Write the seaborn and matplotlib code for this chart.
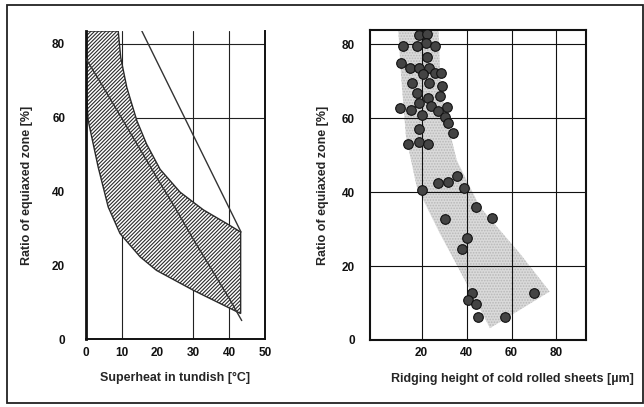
import numpy as np
import pandas as pd
import matplotlib
matplotlib.use("Agg")
import matplotlib.pyplot as plt
from matplotlib.patches import Rectangle
import seaborn as sns

# left panel: hatched band, superheat vs ratio of equiaxed zone
band_upper_x = [9.0, 9.7, 11.4, 14.2, 16.9, 20.7, 26.3, 32.8, 39.3, 43.2]
band_upper_y = [83.5, 76.3, 68.2, 59.2, 52.9, 46.0, 39.8, 35.0, 31.3, 29.0]
band_lower_x = [0.0, 0.0, 0.6, 3.4, 6.2, 9.5, 15.1, 19.7, 30.0, 43.2]
band_lower_y = [83.5, 68.0, 59.3, 46.6, 35.8, 28.6, 22.3, 18.6, 13.2, 6.9]
mid_x = [0, 5, 10, 15, 20, 25, 30, 35, 40, 43.5]
mid_y = [76, 68, 59.8, 51.6, 43.4, 35.4, 27.0, 19.0, 11.0, 5.0]
straight_x = [15.6, 43.3]
straight_y = [83.5, 29.0]

# right panel: grey band and measured points
grey_left_x = [9.6, 11.0, 13.0, 17.8, 28.1, 40.0, 50.4]
grey_left_y = [83.5, 70.0, 55.0, 41.4, 28.8, 15.3, 3.2]
grey_right_x = [27.5, 28.5, 31.2, 35.6, 45.9, 63.7, 77.0]
grey_right_y = [83.5, 68.0, 59.5, 48.6, 36.0, 23.4, 13.1]

ridging = [18.9, 22.2, 21.8, 11.8, 17.8, 25.9, 22.2, 10.8, 14.8, 18.9,
           23.1, 25.9, 28.6, 20.4, 15.6, 23.4, 28.9, 17.8, 28.1, 22.9,
           18.9, 24.1, 10.4, 15.1, 31.1, 27.4, 30.5, 20.0, 31.8, 34.1,
           18.8, 13.8, 18.9, 22.8, 35.6, 31.8, 27.2, 20.3, 38.7, 44.0,
           51.4, 30.2, 40.0, 37.9, 42.2, 40.7, 44.1, 44.9, 57.3, 69.9]
ratio = [82.4, 82.7, 80.4, 79.5, 79.5, 79.5, 76.4, 75.0, 73.6, 73.6,
         73.6, 72.2, 72.2, 71.9, 69.5, 69.5, 68.6, 66.7, 65.9, 65.3,
         64.1, 63.2, 62.6, 62.3, 62.9, 61.8, 60.4, 60.9, 58.6, 55.9,
         57.0, 52.9, 53.5, 52.9, 44.3, 42.8, 42.5, 40.5, 41.0, 35.9,
         33.1, 32.6, 27.5, 24.6, 12.8, 10.8, 9.6, 6.1, 6.3, 12.6]

sns.set_theme(style="white")
plt.rcParams["font.family"] = ["Liberation Sans", "DejaVu Sans"]
plt.rcParams["font.weight"] = "bold"
plt.rcParams["hatch.linewidth"] = 0.8

fig = plt.figure(figsize=(6.44, 4.07), dpi=100)
ax1 = fig.add_axes([86 / 644, 1 - 339 / 407, 179 / 644, 308 / 407])
ax2 = fig.add_axes([370 / 644, 1 - 340 / 407, 215.7 / 644, 310 / 407])

# ---- left panel
poly_x = band_lower_x + band_upper_x[::-1]
poly_y = band_lower_y + band_upper_y[::-1]
ax1.fill(poly_x, poly_y, facecolor="white", edgecolor="#2a2a2a",
         hatch="/////////", linewidth=1.0, zorder=2)
sns.lineplot(x=mid_x, y=mid_y, sort=False, color="#333333", lw=1.0, ax=ax1, zorder=3)
sns.lineplot(x=straight_x, y=straight_y, sort=False, color="#333333", lw=1.0, ax=ax1, zorder=3)

for xv in [10, 30, 40]:
    ax1.axvline(xv, color="#222222", lw=0.8, zorder=1)
for yv in [60, 80]:
    ax1.axhline(yv, color="#222222", lw=0.8, zorder=1)

ax1.set_xlim(0, 50)
ax1.set_ylim(0, 83.5)
ax1.set_xticks([0, 10, 20, 30, 40, 50])
ax1.set_yticks([0, 20, 40, 60, 80])
ax1.tick_params(length=0, labelsize=8.5, colors="#111111")
ax1.tick_params(axis="y", pad=15)
ax1.tick_params(axis="x", pad=6)
for lab in ax1.get_xticklabels() + ax1.get_yticklabels():
    lab.set_fontweight("bold")
ax1.spines["top"].set_visible(False)
ax1.spines["left"].set_linewidth(2.0)
ax1.spines["bottom"].set_linewidth(1.4)
ax1.spines["right"].set_linewidth(1.4)
for s in ax1.spines.values():
    s.set_color("#111111")
ax1.set_xlabel("Superheat in tundish [°C]", fontsize=9, fontweight="bold", labelpad=9)
ax1.set_ylabel("Ratio of equiaxed zone [%]", fontsize=9, fontweight="bold", labelpad=14)

# ---- right panel
gx = grey_left_x + grey_right_x[::-1]
gy = grey_left_y + grey_right_y[::-1]
ax2.fill(gx, gy, facecolor="#dadada", edgecolor="#b8b8b8", hatch="......",
         linewidth=0, zorder=1)
ax2.grid(True, color="#111111", lw=0.8)
ax2.set_axisbelow(False)
pts = pd.DataFrame({"ridging": ridging, "ratio": ratio})
sns.scatterplot(data=pts, x="ridging", y="ratio", s=48, color="#444444",
                edgecolor="#111111", linewidth=0.8, ax=ax2, zorder=4)

ax2.set_xlim(-3, 93)
ax2.set_ylim(0, 83.8)
ax2.set_xticks([20, 40, 60, 80])
ax2.set_yticks([0, 20, 40, 60, 80])
ax2.tick_params(length=0, labelsize=8.5, colors="#111111")
ax2.tick_params(axis="y", pad=11)
ax2.tick_params(axis="x", pad=5)
for lab in ax2.get_xticklabels() + ax2.get_yticklabels():
    lab.set_fontweight("bold")
for s in ax2.spines.values():
    s.set_linewidth(1.5)
    s.set_color("#111111")
ax2.set_xlabel("Ridging height of cold rolled sheets [µm]", fontsize=9, fontweight="bold")
ax2.xaxis.set_label_coords(0.66, -0.105)
ax2.set_ylabel("Ratio of equiaxed zone [%]", fontsize=9, fontweight="bold", labelpad=9)

# outer frame
fig.add_artist(Rectangle((7 / 644, 1 - 403 / 407), 636 / 644, 398 / 407,
                         transform=fig.transFigure, fill=False,
                         edgecolor="#222222", lw=1.3))

fig.savefig("out.png", dpi=100)
